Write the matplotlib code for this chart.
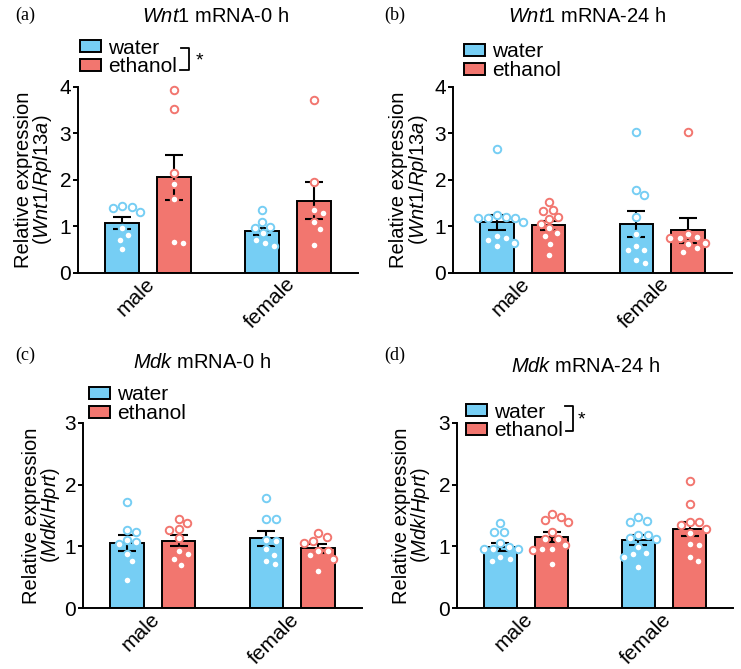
import matplotlib
matplotlib.use('Agg')
import matplotlib.pyplot as plt
import numpy as np
from matplotlib.patches import Patch
from matplotlib.lines import Line2D

plt.rcParams['font.family'] = ['Liberation Sans', 'DejaVu Sans']
plt.rcParams['mathtext.fontset'] = 'custom'
plt.rcParams['mathtext.rm'] = 'Liberation Sans'
plt.rcParams['mathtext.it'] = 'Liberation Sans:italic'

W, H, DPI = 741, 669, 100

# ---------------- data ----------------
groups = ['male', 'female']
treatments = ['water', 'ethanol']
bar_colors = ['#76CEF4', '#F2766F']

# Panel (a) Wnt1 mRNA-0 h
a_mean_water = [1.06, 0.89]
a_sem_water = [0.13, 0.08]
a_mean_ethanol = [2.05, 1.55]
a_sem_ethanol = [0.49, 0.40]
a_pts_water_male = [1.43, 1.39, 1.42, 1.31, 0.96, 0.80, 0.70, 0.50]
a_pts_water_female = [1.35, 1.08, 0.96, 0.98, 0.85, 0.70, 0.57, 0.63]
a_pts_ethanol_male = [3.93, 3.53, 2.15, 1.90, 1.59, 0.63, 0.65]
a_pts_ethanol_female = [3.71, 1.95, 1.34, 1.29, 1.08, 0.93, 0.60]

# Panel (b) Wnt1 mRNA-24 h
b_mean_water = [1.08, 1.045]
b_sem_water = [0.16, 0.285]
b_mean_ethanol = [1.02, 0.915]
b_sem_ethanol = [0.10, 0.27]
b_pts_water_male = [2.66, 1.08, 1.19, 1.24, 1.17, 1.18, 1.18, 0.74, 0.79, 0.57, 0.64, 0.70]
b_pts_water_female = [3.04, 1.77, 1.67, 1.19, 0.82, 0.48, 0.48, 0.58, 0.20, 0.27]
b_pts_ethanol_male = [1.53, 1.32, 1.35, 1.19, 1.16, 1.05, 0.86, 0.96, 0.78, 0.61, 0.38]
b_pts_ethanol_female = [3.02, 0.76, 0.74, 0.74, 0.83, 0.64, 0.61, 0.52, 0.45]

# Panel (c) Mdk mRNA-0 h
c_mean_water = [1.055, 1.13]
c_sem_water = [0.125, 0.125]
c_mean_ethanol = [1.09, 0.965]
c_sem_ethanol = [0.09, 0.065]
c_pts_water_male = [1.72, 1.26, 1.23, 1.11, 1.07, 1.03, 0.88, 0.76, 0.46]
c_pts_water_female = [1.78, 1.44, 1.44, 1.09, 1.11, 0.95, 0.86, 0.76, 0.71]
c_pts_ethanol_male = [1.45, 1.28, 1.38, 1.27, 1.13, 0.88, 0.93, 0.80, 0.70]
c_pts_ethanol_female = [1.22, 1.09, 1.15, 1.05, 0.93, 0.93, 0.86, 0.80, 0.60]

# Panel (d) Mdk mRNA-24 h
d_mean_water = [0.99, 1.10]
d_sem_water = [0.07, 0.08]
d_mean_ethanol = [1.15, 1.275]
d_sem_ethanol = [0.08, 0.115]
d_pts_water_male = [1.38, 1.24, 1.24, 1.06, 0.96, 0.96, 0.96, 0.99, 0.83, 0.80, 0.76]
d_pts_water_female = [1.40, 1.41, 1.47, 1.19, 1.13, 1.12, 1.19, 0.99, 0.82, 0.87, 0.90, 0.66]
d_pts_ethanol_male = [1.48, 1.42, 1.52, 1.39, 1.23, 1.12, 1.12, 1.02, 0.96, 0.94, 0.96, 0.72]
d_pts_ethanol_female = [2.06, 1.69, 1.39, 1.35, 1.40, 1.28, 1.21, 1.02, 1.03, 0.77, 0.83]

panels = [
    dict(tag='(a)', gene='Wnt1', time='0 h', norm='Wnt1/Rpl13a', ymax=4,
         mw=a_mean_water, sw=a_sem_water, me=a_mean_ethanol, se=a_sem_ethanol,
         pw=[a_pts_water_male, a_pts_water_female], pe=[a_pts_ethanol_male, a_pts_ethanol_female],
         box=(78, 87, 358, 272.5), title_xy=(216, 16), tag_xy=(25, 15), ylab_dx=-44,
         leg_xy=(80, 57.5)),
    dict(tag='(b)', gene='Wnt1', time='24 h', norm='Wnt1/Rpl13a', ymax=4,
         mw=b_mean_water, sw=b_sem_water, me=b_mean_ethanol, se=b_sem_ethanol,
         pw=[b_pts_water_male, b_pts_water_female], pe=[b_pts_ethanol_male, b_pts_ethanol_female],
         box=(453, 87, 732, 272.5), title_xy=(587, 16), tag_xy=(395, 15), ylab_dx=-43.5,
         leg_xy=(464, 61)),
    dict(tag='(c)', gene='Mdk', time='0 h', norm='Mdk/Hprt', ymax=3,
         mw=c_mean_water, sw=c_sem_water, me=c_mean_ethanol, se=c_sem_ethanol,
         pw=[c_pts_water_male, c_pts_water_female], pe=[c_pts_ethanol_male, c_pts_ethanol_female],
         box=(83, 423, 362, 608), title_xy=(202, 363), tag_xy=(25, 355), ylab_dx=-41,
         leg_xy=(89, 404)),
    dict(tag='(d)', gene='Mdk', time='24 h', norm='Mdk/Hprt', ymax=3,
         mw=d_mean_water, sw=d_sem_water, me=d_mean_ethanol, se=d_sem_ethanol,
         pw=[d_pts_water_male, d_pts_water_female], pe=[d_pts_ethanol_male, d_pts_ethanol_female],
         box=(457, 423, 733, 608), title_xy=(586, 366), tag_xy=(395, 355), ylab_dx=-45,
         leg_xy=(466, 421.5)),
]

fig = plt.figure(figsize=(W / DPI, H / DPI), dpi=DPI)
fig.patch.set_facecolor('white')

def fx(px):
    return px / W

def fy(py):
    return 1 - py / H

MS = 5.4      # marker size (pt)
MEW = 1.4
D_PX = 9.2    # collision diameter in pixels


def swarm(ax, xc, values):
    """Deterministic beeswarm placement in display pixels."""
    vals = np.asarray(values, float)
    order = np.argsort(-vals)
    pix = ax.transData.transform(np.column_stack([np.full(len(vals), xc), vals]))
    x0 = pix[0, 0]
    placed = []
    out_x = np.zeros(len(vals))
    cand = [0.0]
    for k in range(1, 80):
        cand += [k * 0.5, -k * 0.5]
    for i in order:
        y = pix[i, 1]
        for dx in cand:
            ok = True
            for (px, py) in placed:
                if (x0 + dx - px) ** 2 + (y - py) ** 2 < D_PX ** 2:
                    ok = False
                    break
            if ok:
                break
        placed.append((x0 + dx, y))
        out_x[i] = x0 + dx
    inv = ax.transData.inverted()
    data = inv.transform(np.column_stack([out_x, pix[:, 1]]))
    return data[:, 0]


xpos_groups = np.array([0.0, 2.7])
offs = [0.0, 1.0]
bw = 0.65

for p in panels:
    l, t, r, b = p['box']
    ax = fig.add_axes([fx(l), fy(b), fx(r) - fx(l), fy(t) - fy(b)])
    ax.set_xlim(-0.85, 4.55)
    ax.set_ylim(0, p['ymax'])
    ax.spines['top'].set_visible(False)
    ax.spines['right'].set_visible(False)
    for s in ('left', 'bottom'):
        ax.spines[s].set_linewidth(1.4)
    ax.set_yticks(range(0, p['ymax'] + 1))
    ax.tick_params(axis='y', length=3.5, width=1.4, labelsize=15, pad=1.5)
    ax.tick_params(axis='x', length=0, labelsize=15, pad=6)
    ax.patch.set_alpha(0)

    means = [p['mw'], p['me']]
    sems = [p['sw'], p['se']]
    pts = [p['pw'], p['pe']]
    handles = []
    for ti in range(2):
        xs = xpos_groups + offs[ti]
        ax.bar(xs, means[ti], width=bw, color=bar_colors[ti], edgecolor='black',
               linewidth=1.4, zorder=2)
        ax.errorbar(xs, means[ti], yerr=sems[ti], fmt='none', ecolor='black',
                    elinewidth=1.5, capsize=6.5, capthick=1.5, zorder=3)
        handles.append(Patch(facecolor=bar_colors[ti], edgecolor='black',
                             linewidth=1.4, label=treatments[ti]))

    for ti in range(2):
        for gi in range(2):
            xc = xpos_groups[gi] + offs[ti]
            v = pts[ti][gi]
            xj = swarm(ax, xc, v)
            ax.plot(xj, v, 'o', ms=MS, mfc='white', mec=bar_colors[ti], mew=MEW,
                    linestyle='none', zorder=4, clip_on=False)

    ax.set_xticks(xpos_groups + 0.5 + 0.08)
    ax.set_xticklabels(groups, rotation=45, ha='right', va='center',
                       rotation_mode='anchor')

    # y label
    ax.set_ylabel('Relative expression\n(' + r'$\mathit{' + p['norm'] + '}$' + ')',
                  fontsize=14.5, linespacing=0.92, va='center', ha='center')
    ax.yaxis.set_label_coords(p['ylab_dx'] / (r - l), 0.5)

    # legend
    lx, ly = p['leg_xy']
    ax.legend(handles=handles, loc='center left', bbox_to_anchor=(fx(lx), fy(ly)),
              bbox_transform=fig.transFigure, frameon=False, fontsize=15,
              handlelength=1.0, handleheight=0.5, handletextpad=0.35,
              labelspacing=0.0, borderpad=0, borderaxespad=0)

    # title
    tx, ty = p['title_xy']
    fig.text(fx(tx), fy(ty), r'$\mathit{' + p['gene'] + '}$' + ' mRNA-' + p['time'],
             ha='center', va='center', fontsize=14.5)
    # panel tag
    gx, gy = p['tag_xy']
    fig.text(fx(gx), fy(gy), p['tag'], ha='center', va='center', fontsize=13,
             family='Liberation Serif')

# significance brackets
def bracket(x_v, y_top, y_bot, x_left_top, x_left_bot, star_xy):
    fig.add_artist(Line2D([fx(x_left_top), fx(x_v), fx(x_v), fx(x_left_bot)],
                          [fy(y_top), fy(y_top), fy(y_bot), fy(y_bot)],
                          color='black', lw=1.3))
    fig.text(fx(star_xy[0]), fy(star_xy[1]), '*', ha='center', va='center', fontsize=14)

bracket(189, 48, 70, 181, 180, (199, 61))
bracket(573, 406, 431, 565, 566, (581, 420))

fig.savefig('out.png', dpi=DPI, facecolor='white')
